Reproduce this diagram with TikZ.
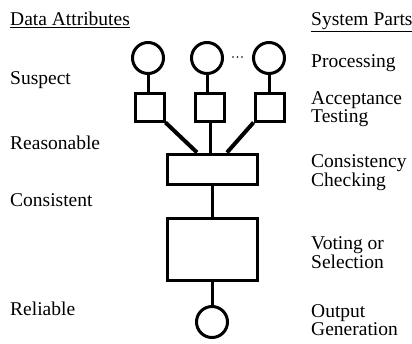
\documentclass[tikz,border=0pt]{standalone}
\usepackage{fontspec}
\setmainfont{Liberation Serif}
\begin{document}
\begin{tikzpicture}[x=1pt,y=-1pt,
  every node/.style={font=\fontsize{19.5}{16.5}\selectfont},
  lbl/.style={anchor=west,inner sep=0pt,align=left},
  ring/.style={draw,circle,line width=3pt,minimum size=31pt,inner sep=0pt},
  sbox/.style={draw,line width=3pt,minimum width=29pt,minimum height=28pt,inner sep=0pt},
  bigbox/.style={draw,line width=3pt,minimum width=90pt,inner sep=0pt},
  wire/.style={line width=3pt},
  diag/.style={line width=4pt}]
\useasboundingbox (0,0) rectangle (412,343);
% left column
\node[lbl] (da) at (10,20) {\underline{Data Attributes}};
\node[lbl] (su) at (10,80) {Suspect};
\node[lbl] (re) at (10,143) {Reasonable};
\node[lbl] (co) at (10,200) {Consistent};
\node[lbl] (rl) at (10,309) {Reliable};
% right column
\node[lbl] (sp) at (311,22) {\underline{System Parts}};
\node[lbl] (pr) at (311,63) {Processing};
\node[lbl] (ac) at (311,109) {Acceptance\\Testing};
\node[lbl] (cc) at (311,173) {Consistency\\Checking};
\node[lbl] (vs) at (311,253) {Voting or\\Selection};
\node[lbl] (og) at (311,320) {Output\\Generation};
% diagram
\node[ring] (c1) at (148,58) {};
\node[ring] (c2) at (207,58) {};
\node[ring] (c3) at (269,58) {};
\node[sbox] (s1) at (149.5,107) {};
\node[sbox] (s2) at (210,107) {};
\node[sbox] (s3) at (269.5,107) {};
\node[bigbox,minimum height=30pt] (cons) at (212,169) {};
\node[bigbox,minimum height=62pt] (vote) at (212,249) {};
\node[ring] (out) at (212,322) {};
\foreach \x in {233,237.5,242} \fill (\x,57) circle (0.9pt);
\draw[wire] (c1) -- (c1 |- s1.north);
\draw[wire] (c2) -- (c2 |- s2.north);
\draw[wire] (c3) -- (c3 |- s3.north);
\coordinate (j1) at ([xshift=-15pt]cons.north);
\coordinate (j3) at ([xshift=15pt]cons.north);
\draw[diag] (s1.south east) -- (j1);
\draw[wire] (s2.south) -- (s2.south |- cons.north);
\draw[diag] (s3.south west) -- (j3);
\draw[wire] (cons) -- (vote);
\draw[wire] (vote) -- (out);
\end{tikzpicture}
\end{document}
